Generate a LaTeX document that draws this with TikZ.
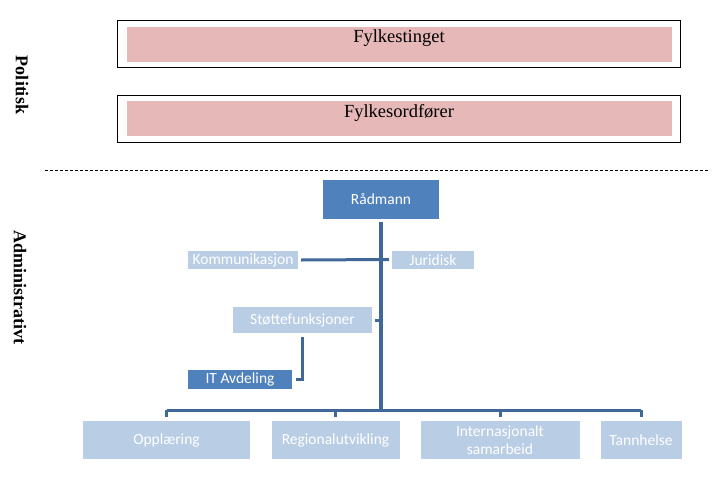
\documentclass[tikz,border=0pt]{standalone}
\usepackage{fontspec}
\setmainfont{Liberation Serif}
\newfontfamily\calib{Carlito}
\usetikzlibrary{positioning}
\definecolor{rosa}{HTML}{E6B9B8}
\definecolor{mork}{HTML}{4F81BD}
\definecolor{lys}{HTML}{B9CDE5}
\definecolor{linje}{HTML}{3F6797}
\tikzset{
  ramme/.style={draw=black, line width=1pt, minimum width=563pt, minimum height=47pt, inner sep=0pt},
  rosaboks/.style={fill=rosa, minimum width=545pt, minimum height=35pt, inner sep=0pt},
  politekst/.style={anchor=base, font=\fontsize{18.5}{20}\selectfont},
  niva/.style={rotate=-90, font=\fontsize{18}{20}\selectfont\bfseries},
  enhet/.style={inner sep=0pt, text=white, align=center, font=\calib\fontsize{15.5}{18}\selectfont},
  morkboks/.style={enhet, fill=mork},
  lysboks/.style={enhet, fill=lys},
  kobling/.style={draw=linje, line width=3pt},
}
\begin{document}
\begin{tikzpicture}[x=1pt,y=-1pt]
  \useasboundingbox (0,0) rectangle (724,480);
  % politisk nivaa
  \node[ramme] (ting) at (399,44) {};
  \node[rosaboks] (tingfarge) at (399,44) {};
  \node[politekst] (tingtekst) at (399,42) {Fylkestinget};
  \node[ramme] (ordforer) at (399,119) {};
  \node[rosaboks] (ordforerfarge) at (399,118.5) {};
  \node[politekst] (ordforertekst) at (399,117) {Fylkesordfører};
  \node[niva] (politisk) at (22,85) {Politisk};
  \draw[line width=0.8pt, dash pattern=on 3pt off 2pt] (45,170) -- (710,170);
  % administrativt nivaa
  \node[niva] (admin) at (20,287) {Administrativt};
  \node[morkboks, minimum width=116pt, minimum height=39pt] (raadmann) at (381,199.5) {Rådmann};
  \node[lysboks, minimum width=110pt, minimum height=18pt] (kom) at (243,260) {Kommunikasjon};
  \node[lysboks, minimum width=82pt, minimum height=18pt] (jur) at (433,260) {Juridisk};
  \node[lysboks, minimum width=139pt, minimum height=26pt] (stotte) at (302.5,320) {Støttefunksjoner};
  \node[morkboks, minimum width=104pt, minimum height=19pt] (it) at (240,379.5) {IT Avdeling};
  \node[lysboks, minimum width=167pt, minimum height=38pt] (opp) at (166.5,440) {Opplæring};
  \node[lysboks, minimum width=128pt, minimum height=38pt] (reg) at (335.5,440) {Regionalutvikling};
  \node[lysboks, minimum width=159pt, minimum height=38pt] (int) at (500,440) {Internasjonalt\\samarbeid};
  \node[lysboks, minimum width=81pt, minimum height=38pt] (tann) at (641,440) {Tannhelse};
  \coordinate (buss) at (381,410);
  \coordinate (kryss) at (389,259.5);
  % linjer
  \draw[kobling, line width=4pt] ([yshift=-3pt]raadmann.south) -- (raadmann.south |- buss);
  \draw[kobling] ([xshift=3pt]kom.east) -- (kryss);
  \draw[kobling] ([xshift=3pt]stotte.east) -- (stotte.east -| raadmann.south);
  \draw[kobling] ([yshift=-4pt]stotte.south) |- ([xshift=4pt]it.east);
  \draw[kobling] (opp.north |- buss) -- (tann.north |- buss);
  \foreach \boks in {opp,reg,int,tann}
    \draw[kobling] (\boks.north |- buss) -- ([yshift=4pt]\boks.north);
\end{tikzpicture}
\end{document}
